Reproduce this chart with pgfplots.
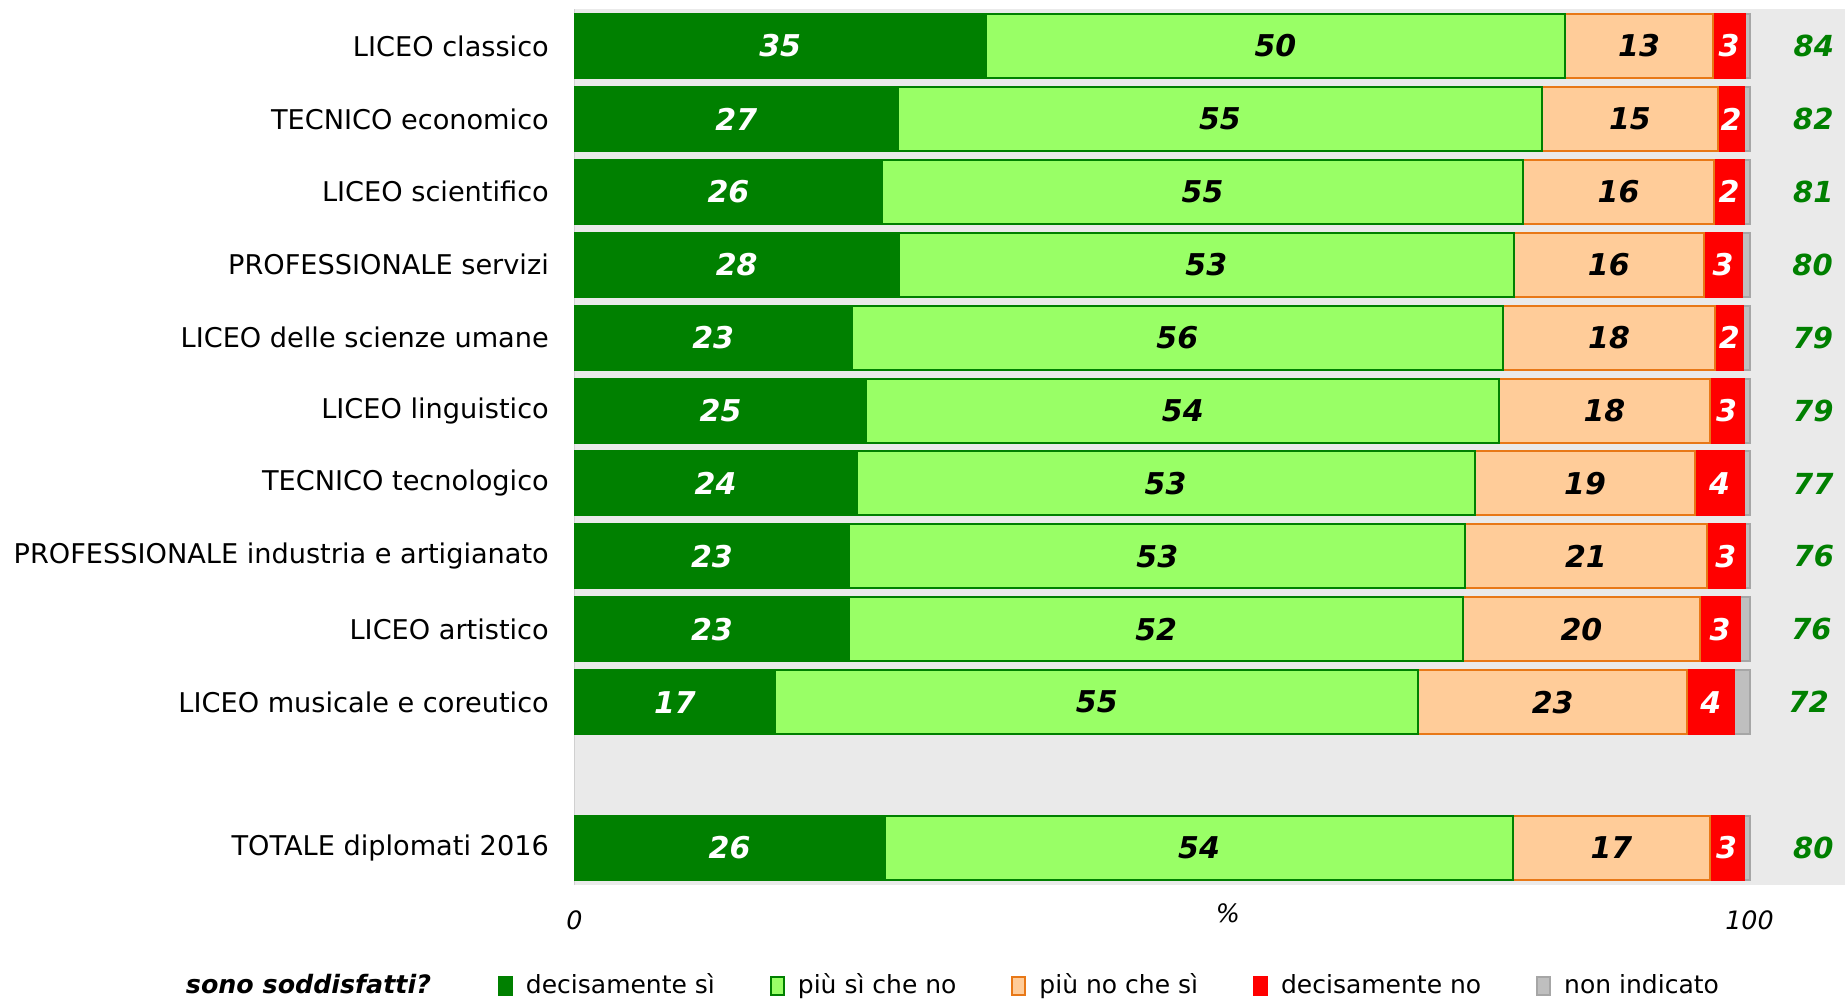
\documentclass[border=0pt]{standalone}
\usepackage{fontspec}
\setmainfont{DejaVu Sans}
\usepackage{pgfplots}
\usepackage{pgfplotstable}
\pgfplotsset{compat=1.18}
\definecolor{dg}{HTML}{008000}
\definecolor{lg}{HTML}{99FF66}
\definecolor{peach}{HTML}{FFCC99}
\definecolor{orb}{HTML}{E87817}
\definecolor{rd}{HTML}{FF0000}
\definecolor{gf}{HTML}{BFBFBF}
\definecolor{gb}{HTML}{A6A6A6}
\definecolor{bg}{HTML}{EAEAEA}
\definecolor{axg}{HTML}{D0D0D0}
\newcommand{\barfont}{\bfseries\itshape\fontsize{9}{10}\selectfont}
\pgfplotstableread{
y a b c d e la lb lc ld tot
0 35.0 49.3 12.6 2.7 0.4 35 50 13 3 84
-1 27.55 54.75 15.05 2.15 0.5 27 55 15 2 82
-2 26.2 54.5 16.3 2.5 0.5 26 55 16 2 81
-3 27.6 52.35 16.15 3.3 0.6 28 53 16 3 80
-4 23.6 55.4 18.1 2.35 0.55 23 56 18 2 79
-5 24.85 53.85 17.9 2.9 0.5 25 54 18 3 79
-6 24.0 52.6 18.8 4.1 0.5 24 53 19 4 77
-7 23.4 52.4 20.55 3.25 0.4 23 53 21 3 76
-8 23.4 52.2 20.2 3.4 0.8 23 52 20 3 76
-9 17.1 54.7 22.9 4.0 1.3 17 55 23 4 72
-11 26.4 53.5 16.7 2.9 0.5 26 54 17 3 80
}\data
\pgfplotsset{
  mylegend/.style={legend image code/.code={\draw[##1,line width=0.6pt] (0pt,-2.8pt) rectangle (3.9pt,2.8pt);}},
}
\begin{document}
\begin{tikzpicture}
\useasboundingbox (0,0) rectangle (553.5pt,300pt);
\begin{axis}[
  at={(172.35pt,34.5pt)}, anchor=south west,
  scale only axis, width=381.3pt, height=262.8pt,
  xbar stacked, bar width=19.2pt,
  xmin=0, xmax=108.17, ymin=-11.507, ymax=0.507,
  ytick={0,-1,-2,-3,-4,-5,-6,-7,-8,-9,-11},
  yticklabels={LICEO classico,TECNICO economico,LICEO scientifico,PROFESSIONALE servizi,LICEO delle scienze umane,LICEO linguistico,TECNICO tecnologico,PROFESSIONALE industria e artigianato,LICEO artistico,LICEO musicale e coreutico,TOTALE diplomati 2016},
  xtick={0,100},
  /pgf/number format/assume math mode=true,
  major tick length=0pt,
  axis line style={draw=none},
  axis background/.style={fill=bg},
  yticklabel style={font=\fontsize{8.15}{10}\selectfont, inner sep=0pt, xshift=-7.5pt},
  xticklabel style={font=\itshape\fontsize{7.6}{9}\selectfont, inner sep=0pt, anchor=center, yshift=-10.5pt},
  legend columns=-1,
  legend style={at={(-0.3167,-0.1153)}, anchor=west, draw=none, fill=none, inner sep=0pt,
    font=\fontsize{7.5}{9}\selectfont, legend cell align=left,
    /tikz/every odd column/.append style={column sep=2pt},
    /tikz/every even column/.append style={column sep=14.4pt}},
  clip=false,
]
\addlegendimage{empty legend}
\addlegendentry{\bfseries\itshape\fontsize{7.6}{9}\selectfont sono soddisfatti?\kern3.6pt\relax}
\addplot[fill=dg, draw=dg, line width=0.6pt, mylegend,
  nodes near coords, point meta=explicit symbolic,
  every node near coord/.append style={anchor=center, text=white, font=\barfont}]
  table[x=a, y=y, meta=la] {\data};
\addlegendentry{decisamente sì}
\addplot[fill=lg, draw=dg, line width=0.6pt, mylegend,
  nodes near coords, point meta=explicit symbolic,
  every node near coord/.append style={anchor=center, text=black, font=\barfont}]
  table[x=b, y=y, meta=lb] {\data};
\addlegendentry{più sì che no}
\addplot[fill=peach, draw=orb, line width=0.6pt, mylegend,
  nodes near coords, point meta=explicit symbolic,
  every node near coord/.append style={anchor=center, text=black, font=\barfont}]
  table[x=c, y=y, meta=lc] {\data};
\addlegendentry{più no che sì}
\addplot[fill=rd, draw=rd, line width=0.6pt, mylegend,
  nodes near coords, point meta=explicit symbolic,
  every node near coord/.append style={anchor=center, text=white, font=\barfont}]
  table[x=d, y=y, meta=ld] {\data};
\addlegendentry{decisamente no}
\addplot[fill=gf, draw=gb, line width=0.6pt, mylegend,
  nodes near coords, point meta=explicit symbolic,
  every node near coord/.append style={anchor=center, xshift=20pt, text=dg, font=\bfseries\itshape\fontsize{8.7}{10}\selectfont}]
  table[x=e, y=y, meta=tot] {\data};
\addlegendentry{non indicato}
\draw[axg, line width=0.5pt] (axis cs:0,-11.507) -- (axis cs:0,0.507);
\node[font=\itshape\fontsize{7.6}{9}\selectfont] at (axis description cs:0.514,-0.032) {\%};
\end{axis}
\end{tikzpicture}
\end{document}
